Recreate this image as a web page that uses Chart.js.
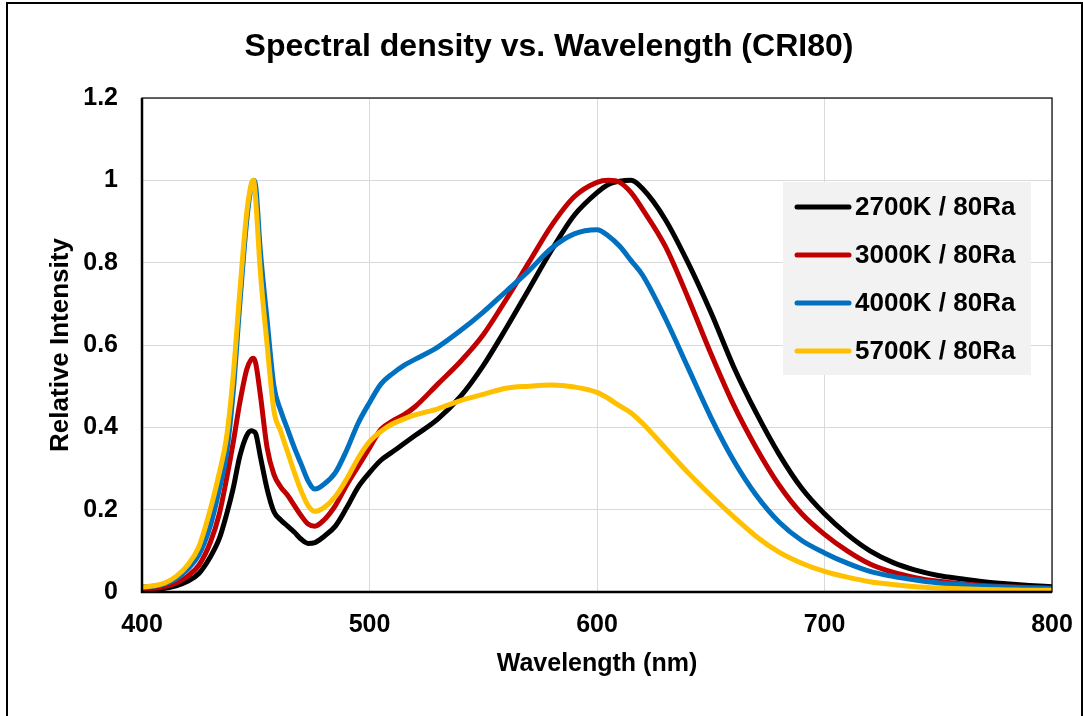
<!DOCTYPE html>
<html>
<head>
<meta charset="utf-8">
<script src="https://cdn.jsdelivr.net/npm/chart.js@4.4.1/dist/chart.umd.min.js"></script>
<style>
  html, body { margin: 0; padding: 0; background: #fff; overflow: hidden; }
  #wrap { position: relative; width: 1083px; height: 716px; }
  #frame { position: absolute; left: 6px; top: 2px; width: 1073px; height: 760px; border: 2px solid #000; pointer-events: none; }
  canvas { position: absolute; left: 0; top: 0; }
</style>
</head>
<body>
<div id="wrap">
  <canvas id="spectrum" width="1083" height="716"></canvas>
  <div id="frame"></div>
</div>
<script>
const wavelengths = [400, 405, 410, 415, 420, 425, 430, 434, 437, 440, 443, 446, 448, 449, 450, 452, 455, 458,
  461, 464, 467, 470, 473, 476, 480, 485, 490, 495, 500, 505, 510, 515, 520, 530, 540, 550, 560, 570, 580, 590,
  600, 605, 610, 615, 620, 630, 640, 650, 660, 670, 680, 690, 700, 710, 720, 730, 740, 750, 760, 770, 780, 790, 800];

const seriesLabels = ["2700K / 80Ra", "3000K / 80Ra", "4000K / 80Ra", "5700K / 80Ra"];

const k2700 = [0.005, 0.006, 0.009, 0.015, 0.026, 0.045, 0.085, 0.13, 0.185, 0.25, 0.33, 0.38, 0.392, 0.39, 0.385, 0.33, 0.25, 0.195,
  0.175, 0.16, 0.145, 0.128, 0.118, 0.12, 0.135, 0.16, 0.205, 0.255, 0.29, 0.32, 0.34, 0.36, 0.38, 0.42, 0.475, 0.55, 0.64, 0.735, 0.83, 0.915,
  0.97, 0.99, 0.998, 1.0, 0.98, 0.905, 0.8, 0.68, 0.548, 0.435, 0.335, 0.252, 0.19, 0.14, 0.1, 0.072, 0.053, 0.04, 0.032, 0.025, 0.02, 0.016, 0.013];

const k3000 = [0.006, 0.008, 0.013, 0.022, 0.038, 0.065, 0.12, 0.19, 0.27, 0.36, 0.46, 0.54, 0.565, 0.568, 0.555, 0.48, 0.35, 0.285,
  0.255, 0.235, 0.21, 0.185, 0.165, 0.16, 0.175, 0.21, 0.26, 0.305, 0.35, 0.395, 0.415, 0.43, 0.45, 0.505, 0.56, 0.625, 0.71, 0.8, 0.89, 0.96,
  0.995, 1.0, 0.995, 0.97, 0.93, 0.84, 0.715, 0.58, 0.455, 0.35, 0.26, 0.19, 0.14, 0.1, 0.068, 0.048, 0.035, 0.026, 0.02, 0.016, 0.013, 0.011, 0.01];

const k4000 = [0.012, 0.014, 0.02, 0.032, 0.055, 0.09, 0.16, 0.25, 0.33, 0.48, 0.7, 0.9, 0.985, 1.0, 0.985, 0.83, 0.66, 0.5,
  0.44, 0.395, 0.35, 0.31, 0.27, 0.25, 0.262, 0.29, 0.345, 0.41, 0.46, 0.505, 0.53, 0.55, 0.565, 0.595, 0.635, 0.68, 0.73, 0.78, 0.835, 0.87,
  0.88, 0.865, 0.84, 0.805, 0.77, 0.665, 0.545, 0.425, 0.32, 0.235, 0.17, 0.125, 0.095, 0.07, 0.05, 0.038, 0.029, 0.022, 0.018, 0.014, 0.012, 0.01, 0.008];

const k5700 = [0.012, 0.015, 0.022, 0.038, 0.065, 0.11, 0.2, 0.29, 0.37, 0.52, 0.73, 0.92, 0.99, 1.0, 0.95, 0.78, 0.6, 0.44,
  0.39, 0.34, 0.29, 0.245, 0.21, 0.196, 0.205, 0.232, 0.275, 0.325, 0.365, 0.39, 0.408, 0.42, 0.43, 0.445, 0.465, 0.48, 0.495, 0.5, 0.503, 0.498,
  0.485, 0.47, 0.452, 0.435, 0.41, 0.35, 0.29, 0.235, 0.183, 0.135, 0.097, 0.07, 0.05, 0.036, 0.025, 0.018, 0.013, 0.01, 0.008, 0.006, 0.005, 0.004, 0.004];

const seriesColors = ["#000000", "#c00000", "#0070c0", "#ffc000"];
const xTicks = [400, 500, 600, 700, 800];
const yTicks = [0, 0.2, 0.4, 0.6, 0.8, 1, 1.2];
const chartTitle = "Spectral density vs. Wavelength (CRI80)";

const FONT = "'Liberation Sans', Arial, sans-serif";

function toPoints(values) {
  return wavelengths.map((w, i) => ({ x: w, y: values[i] }));
}

// frame around the plot area: heavy left/bottom axes, thin top/right
const plotBorder = {
  id: "plotBorder",
  afterDatasetsDraw(chart) {
    const { ctx, chartArea: a } = chart;
    ctx.save();
    ctx.strokeStyle = "#000";
    ctx.lineWidth = 1.2;
    ctx.strokeRect(a.left, a.top, a.right - a.left, a.bottom - a.top);
    ctx.lineWidth = 2.5;
    ctx.beginPath();
    ctx.moveTo(a.left, a.top);
    ctx.lineTo(a.left, a.bottom);
    ctx.lineTo(a.right, a.bottom);
    ctx.stroke();
    ctx.restore();
  }
};

// title centred on the whole picture, legend box inside the plot
const decorations = {
  id: "decorations",
  afterDraw(chart) {
    const ctx = chart.ctx;
    ctx.save();
    ctx.fillStyle = "#000";
    ctx.font = "bold 32px " + FONT;
    ctx.textAlign = "center";
    ctx.textBaseline = "middle";
    ctx.fillText(chartTitle, 549, 47);

    ctx.fillStyle = "#f2f2f2";
    ctx.fillRect(783, 182, 248, 193);
    ctx.font = "bold 26px " + FONT;
    ctx.textAlign = "left";
    seriesLabels.forEach((label, i) => {
      const y = 207 + i * 48;
      ctx.strokeStyle = seriesColors[i];
      ctx.lineWidth = 5;
      ctx.lineCap = "round";
      ctx.beginPath();
      ctx.moveTo(797, y);
      ctx.lineTo(849, y);
      ctx.stroke();
      ctx.fillStyle = "#000";
      ctx.fillText(label, 855, y + 1);
    });
    ctx.restore();
  }
};

const series = [k2700, k3000, k4000, k5700];

new Chart(document.getElementById("spectrum"), {
  type: "line",
  data: {
    datasets: series.map((vals, i) => ({
      label: seriesLabels[i],
      data: toPoints(vals),
      borderColor: seriesColors[i],
      backgroundColor: seriesColors[i],
      borderWidth: 5,
      pointRadius: 0,
      cubicInterpolationMode: "monotone",
      order: 3 - i
    }))
  },
  options: {
    responsive: false,
    animation: false,
    devicePixelRatio: 1,
    layout: { padding: { left: 0, right: 31, top: 98, bottom: 0 } },
    plugins: {
      legend: { display: false },
      tooltip: { enabled: false },
      title: { display: false }
    },
    scales: {
      x: {
        type: "linear",
        min: 400,
        max: 800,
        afterBuildTicks: s => { s.ticks = xTicks.map(v => ({ value: v })); },
        afterFit: s => { s.height = 124; s.paddingLeft = 0; s.paddingRight = 0; },
        grid: { color: "#d9d9d9", lineWidth: 1, drawTicks: false },
        border: { display: false },
        ticks: {
          color: "#000",
          font: { family: FONT, size: 25, weight: "bold" },
          padding: 18,
          maxRotation: 0
        },
        title: {
          display: true,
          text: "Wavelength (nm)",
          color: "#000",
          font: { family: FONT, size: 25, weight: "bold" },
          padding: { top: 0, bottom: 37 }
        }
      },
      y: {
        min: 0,
        max: 1.2,
        afterBuildTicks: s => { s.ticks = yTicks.map(v => ({ value: v })); },
        afterFit: s => { s.width = 142; s.paddingTop = 0; s.paddingBottom = 0; },
        grid: { color: "#d9d9d9", lineWidth: 1, drawTicks: false },
        border: { display: false },
        ticks: {
          color: "#000",
          font: { family: FONT, size: 25, weight: "bold" },
          padding: 24,
          callback: v => String(+v.toFixed(1))
        },
        title: {
          display: true,
          text: "Relative Intensity",
          color: "#000",
          font: { family: FONT, size: 26, weight: "bold" },
          padding: { top: 45, bottom: 0 }
        }
      }
    }
  },
  plugins: [plotBorder, decorations]
});
</script>
</body>
</html>
